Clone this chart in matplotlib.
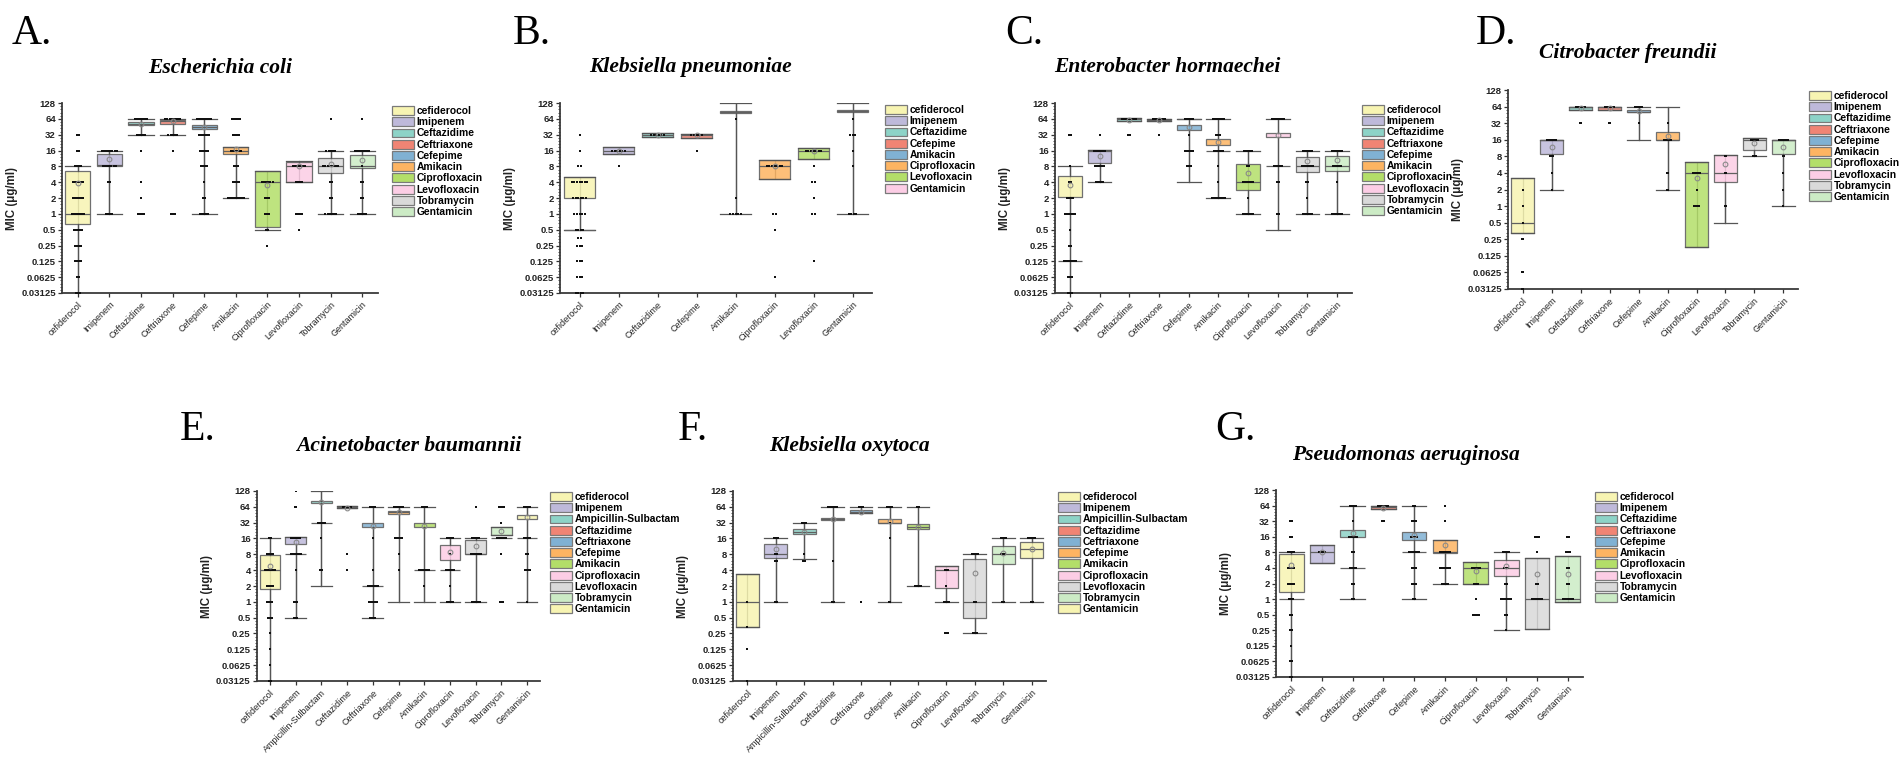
import matplotlib
matplotlib.use('Agg')
import matplotlib.pyplot as plt
import numpy as np
from matplotlib.patches import Patch
from matplotlib.ticker import FixedLocator
from matplotlib.colors import to_rgba

plt.rcParams['font.family'] = ['Liberation Sans', 'DejaVu Sans']

W, H = 1902, 758
fig = plt.figure(figsize=(W / 100, H / 100), dpi=100)

PALETTE = ['#F7F4B2', '#BEB9DA', '#8DD3C7', '#F08474', '#80B1D3', '#FDB462',
           '#B3DE69', '#FCCDE5', '#D9D9D9', '#CCEBC5', '#F7F4B2']

Y_TICKS = [128, 64, 32, 16, 8, 4, 2, 1, 0.5, 0.25, 0.125, 0.0625, 0.03125]
Y_TICK_LABELS = ['128', '64', '32', '16', '8', '4', '2', '1', '0.5', '0.25', '0.125', '0.0625', '0.03125']

DRUGS10 = ['cefiderocol', 'Imipenem', 'Ceftazidime', 'Ceftriaxone', 'Cefepime', 'Amikacin',
           'Ciprofloxacin', 'Levofloxacin', 'Tobramycin', 'Gentamicin']
DRUGS_B = ['cefiderocol', 'Imipenem', 'Ceftazidime', 'Cefepime', 'Amikacin',
           'Ciprofloxacin', 'Levofloxacin', 'Gentamicin']
DRUGS11 = ['cefiderocol', 'Imipenem', 'Ampicillin-Sulbactam', 'Ceftazidime', 'Ceftriaxone',
           'Cefepime', 'Amikacin', 'Ciprofloxacin', 'Levofloxacin', 'Tobramycin', 'Gentamicin']

# ---------------- A. Escherichia coli ----------------
A_q1 = [0.65, 8.2, 48, 52, 41, 13.5, 0.55, 4.0, 5.9, 7.4]
A_med = [1, 8.5, 52, 58, 45, 16, 4, 8, 8, 8]
A_q3 = [6.5, 14, 56, 61, 48, 19, 6.5, 9.8, 11.7, 13.2]
A_wlo = [0.03125, 1, 32, 32, 1, 2, 0.5, 4, 1, 1]
A_whi = [8, 16, 64, 64, 64, 19, 6.5, 10, 16, 16]
A_mean = [3.8, 11.2, 52, 58, 45, 17, 3.5, 8, 9, 10.5]
A_pts = [
    [(32, 2), (16, 2), (8, 4), (4, 6), (2, 6), (1, 7), (0.5, 5), (0.25, 4), (0.125, 4), (0.0625, 2), (0.03125, 3)],
    [(16, 8), (8, 7), (4, 2), (1, 4)],
    [(64, 7), (32, 5), (16, 1), (4, 1), (2, 1), (1, 4)],
    [(64, 8), (32, 5), (16, 1), (1, 3)],
    [(64, 8), (32, 6), (16, 5), (8, 4), (4, 1), (2, 2), (1, 5)],
    [(64, 5), (32, 4), (16, 6), (8, 3), (4, 4), (2, 9)],
    [(4, 6), (2, 3), (1, 3), (0.5, 2), (0.25, 1)],
    [(8, 7), (4, 4), (1, 4), (0.5, 1)],
    [(64, 1), (16, 5), (8, 8), (4, 2), (2, 2), (1, 6)],
    [(64, 1), (16, 8), (8, 1), (4, 2), (2, 2), (1, 5)],
]

# ---------------- B. Klebsiella pneumoniae ----------------
B_q1 = [2, 13.5, 28.5, 28, 82, 4.5, 11, 88]
B_med = [0.5, 16, 32, 32, 86, 8, 16, 92]
B_q3 = [5, 19, 34.6, 33, 90, 10.6, 17.7, 96]
B_wlo = [0.5, 13.5, 28.5, 28, 1, 4.5, 11, 1]
B_whi = [5, 19, 34.6, 33, 128, 10.6, 17.7, 128]
B_mean = [None, 16, 32, 31, None, 8, 16, None]
B_pts = [
    [(32, 1), (16, 1), (8, 2), (4, 7), (2, 6), (1, 5), (0.5, 4), (0.35, 2), (0.25, 3), (0.125, 3), (0.0625, 3), (0.03125, 4)],
    [(16, 6), (8, 1)],
    [(32, 6)],
    [(32, 5), (16, 1)],
    [(64, 1), (2, 1), (1, 5)],
    [(8, 7), (1, 2), (0.5, 1), (0.0625, 1)],
    [(16, 7), (8, 1), (4, 2), (2, 1), (1, 2), (0.125, 1)],
    [(64, 1), (32, 3), (16, 1), (8, 1), (1, 4)],
]

# ---------------- C. Enterobacter hormaechei ----------------
C_q1 = [2.1, 9.2, 58, 57, 40, 20.5, 2.9, 28.7, 6.3, 6.5]
C_med = [0.125, 16, 64, 62, 64, 16, 4, 8, 8, 8]
C_q3 = [5.2, 16.5, 66, 64, 48, 26.7, 8.9, 35, 12, 12.4]
C_wlo = [0.03125, 4, 58, 57, 4, 2, 1, 0.5, 1, 1]
C_whi = [8, 16.5, 66, 64, 64, 64, 16, 64, 16, 16]
C_mean = [3.6, 12.4, 62, 60, 44, 23, 6, 32, 10, 10.5]
C_pts = [
    [(32, 2), (8, 1), (4, 2), (2, 4), (1, 6), (0.5, 1), (0.25, 2), (0.125, 7), (0.0625, 3), (0.03125, 3)],
    [(32, 1), (16, 7), (8, 6), (4, 5)],
    [(64, 8), (32, 2)],
    [(64, 7), (32, 1)],
    [(64, 5), (32, 1), (16, 5), (8, 3)],
    [(64, 7), (32, 3), (16, 6), (8, 1), (4, 1), (2, 8)],
    [(16, 5), (8, 2), (4, 6), (2, 1), (1, 6)],
    [(64, 7), (8, 5), (4, 2), (1, 2)],
    [(16, 6), (8, 7), (4, 2), (2, 1), (1, 6)],
    [(16, 6), (8, 5), (4, 1), (1, 6)],
]

# ---------------- D. Citrobacter freundii ----------------
D_q1 = [0.32, 8.8, 56, 56, 50, 16, 0.18, 2.7, 10.5, 8.8]
D_med = [0.5, 16, 64, 64, 52, 16, 4, 4, 16, 16]
D_q3 = [3.3, 16, 64, 64, 55, 22, 6.2, 8.6, 17, 16]
D_wlo = [0.32, 2, 56, 56, 16, 2, 0.18, 0.5, 8, 1]
D_whi = [3.3, 16, 64, 64, 64, 64, 6.2, 8.6, 17, 16]
D_mean = [None, 12, 60, 60, 53, 19, 3.3, 5.7, 14, 12]
D_pts = [
    [(2, 1), (1, 1), (0.5, 1), (0.25, 2), (0.0625, 2), (0.03125, 2)],
    [(16, 6), (8, 3), (4, 1), (2, 1)],
    [(64, 6), (32, 2)],
    [(64, 6), (32, 2)],
    [(64, 5), (32, 1)],
    [(32, 1), (16, 5), (4, 2), (2, 2)],
    [(4, 5), (2, 1), (1, 4)],
    [(8, 2), (4, 2), (1, 2)],
    [(16, 5), (8, 3)],
    [(16, 6), (8, 2), (4, 1), (2, 1), (1, 1)],
]

# ---------------- E. Acinetobacter baumannii ----------------
E_q1 = [1.73, 12.6, 75, 60, 26.7, 46, 27, 6.2, 8, 19, 38]
E_med = [4, 8, 32, 64, 2, 50, 4, 4, 8, 16, 16]
E_q3 = [7.8, 17, 83, 66, 31, 53, 31, 11.9, 15, 26.5, 44]
E_wlo = [0.03125, 0.5, 2, 60, 0.5, 1, 1, 1, 1, 19, 1]
E_whi = [16, 17, 128, 66, 64, 64, 64, 16, 16, 26.5, 64]
E_mean = [4.8, 13.8, 80, 62, 28, 50, 28, 9, 11.7, 22, 41]
E_pts = [
    [(16, 2), (8, 5), (4, 7), (2, 5), (1, 4), (0.5, 3), (0.25, 1), (0.125, 1), (0.0625, 1), (0.03125, 2)],
    [(128, 1), (64, 2), (16, 6), (8, 7), (4, 1), (1, 3), (0.5, 3)],
    [(32, 5), (16, 1), (4, 2)],
    [(64, 6), (8, 1), (4, 1)],
    [(64, 4), (16, 1), (4, 1), (2, 7), (1, 6), (0.5, 4)],
    [(64, 6), (16, 5), (8, 1), (4, 1)],
    [(64, 4), (4, 7), (2, 1)],
    [(16, 5), (8, 1), (4, 6), (2, 1), (1, 5)],
    [(64, 1), (16, 5), (8, 7), (1, 6)],
    [(64, 4), (32, 1), (16, 6), (8, 1), (1, 3)],
    [(64, 5), (16, 5), (8, 2), (4, 4), (1, 1)],
]

# ---------------- F. Klebsiella oxytoca ----------------
F_q1 = [0.33, 6.8, 19.4, 36, 49, 32, 24, 1.87, 0.5, 5.3, 6.8]
F_med = [1, 8, 21.5, 38, 52, 32, 26, 4, 1, 8, 10]
F_q3 = [3.4, 12.7, 24, 40, 55, 38, 29.6, 4.9, 6.4, 11.4, 13.5]
F_wlo = [0.33, 1, 6.4, 1, 49, 1, 2, 1, 0.25, 1, 1]
F_whi = [3.4, 16, 32, 64, 64, 64, 64, 4.9, 8, 16, 16]
F_mean = [None, 10, 21.5, 38, 51, 35, 27, None, 3.6, 8.5, 10]
F_pts = [
    [(1, 1), (0.33, 1), (0.125, 1), (0.03125, 1)],
    [(16, 3), (8, 2), (6, 2), (1, 2)],
    [(32, 3), (8, 1), (6, 2)],
    [(64, 6), (6, 1), (1, 2)],
    [(64, 3), (1, 1)],
    [(64, 4), (32, 1), (16, 1), (1, 2)],
    [(64, 2), (2, 4)],
    [(4, 3), (2, 1), (1, 4), (0.25, 3)],
    [(8, 4), (1, 2), (0.25, 3)],
    [(16, 4), (8, 3), (1, 2)],
    [(16, 5), (1, 2)],
]

# ---------------- G. Pseudomonas aeruginosa ----------------
G_q1 = [1.36, 5, 15.8, 54, 13.6, 7.9, 2, 2.8, 0.26, 0.87]
G_med = [1, 8, 4, 60, 8, 8, 4, 4, 1, 1]
G_q3 = [7.4, 11.3, 21.5, 64, 19.6, 13.9, 5.2, 5.8, 6.3, 6.9]
G_wlo = [0.03125, 5, 1, 54, 1, 2, 2, 0.25, 0.26, 0.87]
G_whi = [8, 11.3, 64, 64, 64, 13.9, 5.2, 8, 6.3, 6.9]
G_mean = [4.5, 8, 19, 58, 17, 11, 3.5, 4.4, 3, 3]
G_pts = [
    [(32, 2), (16, 2), (8, 4), (4, 4), (2, 4), (1, 3), (0.5, 2), (0.25, 2), (0.125, 1), (0.0625, 2), (0.03125, 2)],
    [(8, 4)],
    [(64, 4), (32, 1), (16, 5), (8, 2), (4, 4), (2, 2), (1, 2)],
    [(64, 6), (32, 2)],
    [(64, 2), (32, 3), (16, 4), (8, 6), (4, 3), (2, 3), (1, 2)],
    [(64, 1), (32, 1), (8, 6), (4, 6), (2, 4)],
    [(4, 5), (2, 3), (1, 1), (0.5, 4)],
    [(8, 4), (4, 3), (2, 2), (1, 6), (0.5, 2), (0.25, 1)],
    [(16, 3), (8, 1), (2, 2), (1, 6)],
    [(16, 2), (8, 3), (4, 2), (2, 2), (1, 6)],
]

TITLES = ['Escherichia coli', 'Klebsiella pneumoniae', 'Enterobacter hormaechei', 'Citrobacter freundii',
          'Acinetobacter baumannii', 'Klebsiella oxytoca', 'Pseudomonas aeruginosa']
LETTERS = ['A.', 'B.', 'C.', 'D.', 'E.', 'F.', 'G.']


def px_to_fig(x, y):
    return x / W, 1 - y / H


def draw_panel(rect, drugs, q1, med, q3, wlo, whi, mean, pts, legend_xy):
    x0, y0, x1, y1 = rect
    ax = fig.add_axes([x0 / W, 1 - y1 / H, (x1 - x0) / W, (y1 - y0) / H])
    n = len(drugs)
    pos = np.arange(n)
    stats = [dict(q1=q1[i], med=med[i], q3=q3[i], whislo=wlo[i], whishi=whi[i],
                  fliers=[], label=drugs[i]) for i in range(n)]
    ax.vlines(pos, wlo, whi, color='#555555', lw=0.9, zorder=1)
    bp = ax.bxp(stats, positions=pos, widths=0.8, capwidths=0.8, patch_artist=True,
                showfliers=False, manage_ticks=False,
                boxprops=dict(edgecolor='#707070', linewidth=0.9),
                medianprops=dict(color='#606060', linewidth=0.9),
                whiskerprops=dict(color='#555555', linewidth=0.9),
                capprops=dict(color='#555555', linewidth=0.9), zorder=2)
    for i, b in enumerate(bp['boxes']):
        b.set_facecolor(to_rgba(PALETTE[i], 0.85))
    # data points, laid out side by side at each MIC level
    dx = 0.065
    for i in range(n):
        xs, ys = [], []
        for v, c in pts[i]:
            offs = (np.arange(c) - (c - 1) / 2) * dx
            xs.extend(pos[i] + offs)
            ys.extend([v] * c)
        ax.scatter(xs, ys, s=4.0, marker='s', color='#111111', linewidths=0, zorder=4)
    for i in range(n):
        if mean[i] is not None:
            ax.plot(pos[i], mean[i], marker='o', ms=3.4, mfc='none', mec='#8a8a8a', mew=0.8, zorder=5)
    ax.set_yscale('log', base=2)
    ax.set_ylim(2 ** -5, 2 ** 7)
    ax.set_xlim(-0.5, n - 0.5)
    ax.set_yticks(Y_TICKS)
    ax.set_yticklabels(Y_TICK_LABELS, fontsize=6.8, fontweight='bold', color='#222222')
    minors = [2 ** (k + j / 5) for k in range(-5, 7) for j in range(1, 5)]
    ax.yaxis.set_minor_locator(FixedLocator(minors))
    ax.yaxis.set_minor_formatter(plt.NullFormatter())
    ax.tick_params(axis='y', which='minor', length=1.5, width=0.6, color='#333333')
    ax.tick_params(axis='y', which='major', length=3, width=0.9, color='#333333', pad=1.5)
    ax.set_xticks(pos)
    ax.set_xticklabels(drugs, rotation=45, ha='right', rotation_mode='anchor', fontsize=6.5, color='#222222')
    ax.tick_params(axis='x', length=3, width=0.9, color='#333333', pad=2)
    for s in ['top', 'right']:
        ax.spines[s].set_visible(False)
    for s in ['left', 'bottom']:
        ax.spines[s].set_linewidth(1.3)
        ax.spines[s].set_color('#3a3a3a')
    ax.set_ylabel('MIC (μg/ml)', fontsize=8.3, fontweight='bold', color='#222222', labelpad=2)
    handles = [Patch(facecolor=PALETTE[i], edgecolor='#7a7a7a', linewidth=0.9, label=drugs[i]) for i in range(n)]
    fig.legend(handles=handles, loc='upper left', bbox_to_anchor=px_to_fig(*legend_xy), frameon=False,
               prop=dict(family='Liberation Sans', size=7.4, weight='bold'), handlelength=2.1,
               handleheight=0.95, handletextpad=0.3, labelspacing=0.12, borderpad=0, borderaxespad=0)
    return ax


panels = [
    ((62, 103, 378, 293), DRUGS10, A_q1, A_med, A_q3, A_wlo, A_whi, A_mean, A_pts, (392, 106)),
    ((560, 103, 872, 293), DRUGS_B, B_q1, B_med, B_q3, B_wlo, B_whi, B_mean, B_pts, (885, 105)),
    ((1055, 103, 1352, 293), DRUGS10, C_q1, C_med, C_q3, C_wlo, C_whi, C_mean, C_pts, (1362, 105)),
    ((1508, 90, 1798, 289), DRUGS10, D_q1, D_med, D_q3, D_wlo, D_whi, D_mean, D_pts, (1809, 91)),
    ((257, 491, 540, 681), DRUGS11, E_q1, E_med, E_q3, E_wlo, E_whi, E_mean, E_pts, (550, 492)),
    ((733, 491, 1046, 681), DRUGS11, F_q1, F_med, F_q3, F_wlo, F_whi, F_mean, F_pts, (1058, 492)),
    ((1276, 490, 1583, 677), DRUGS10, G_q1, G_med, G_q3, G_wlo, G_whi, G_mean, G_pts, (1595, 492)),
]
for p in panels:
    draw_panel(*p)

title_pos = [(220, 68), (690, 67), (1167, 67), (1628, 53), (409, 446), (849, 446), (1406, 455)]
letter_pos = [(12, 44), (513, 44), (1005, 44), (1476, 44), (180, 440), (678, 440), (1215, 440)]
for t, (x, y) in zip(TITLES, title_pos):
    fig.text(*px_to_fig(x, y), t, ha='center', va='center', fontsize=15.5, fontweight='bold',
             fontstyle='italic', family='Liberation Serif')
for L, (x, y) in zip(LETTERS, letter_pos):
    fig.text(*px_to_fig(x, y), L, ha='left', va='baseline', fontsize=30, family='Liberation Serif')

fig.savefig('out.png', dpi=100, facecolor='white')
